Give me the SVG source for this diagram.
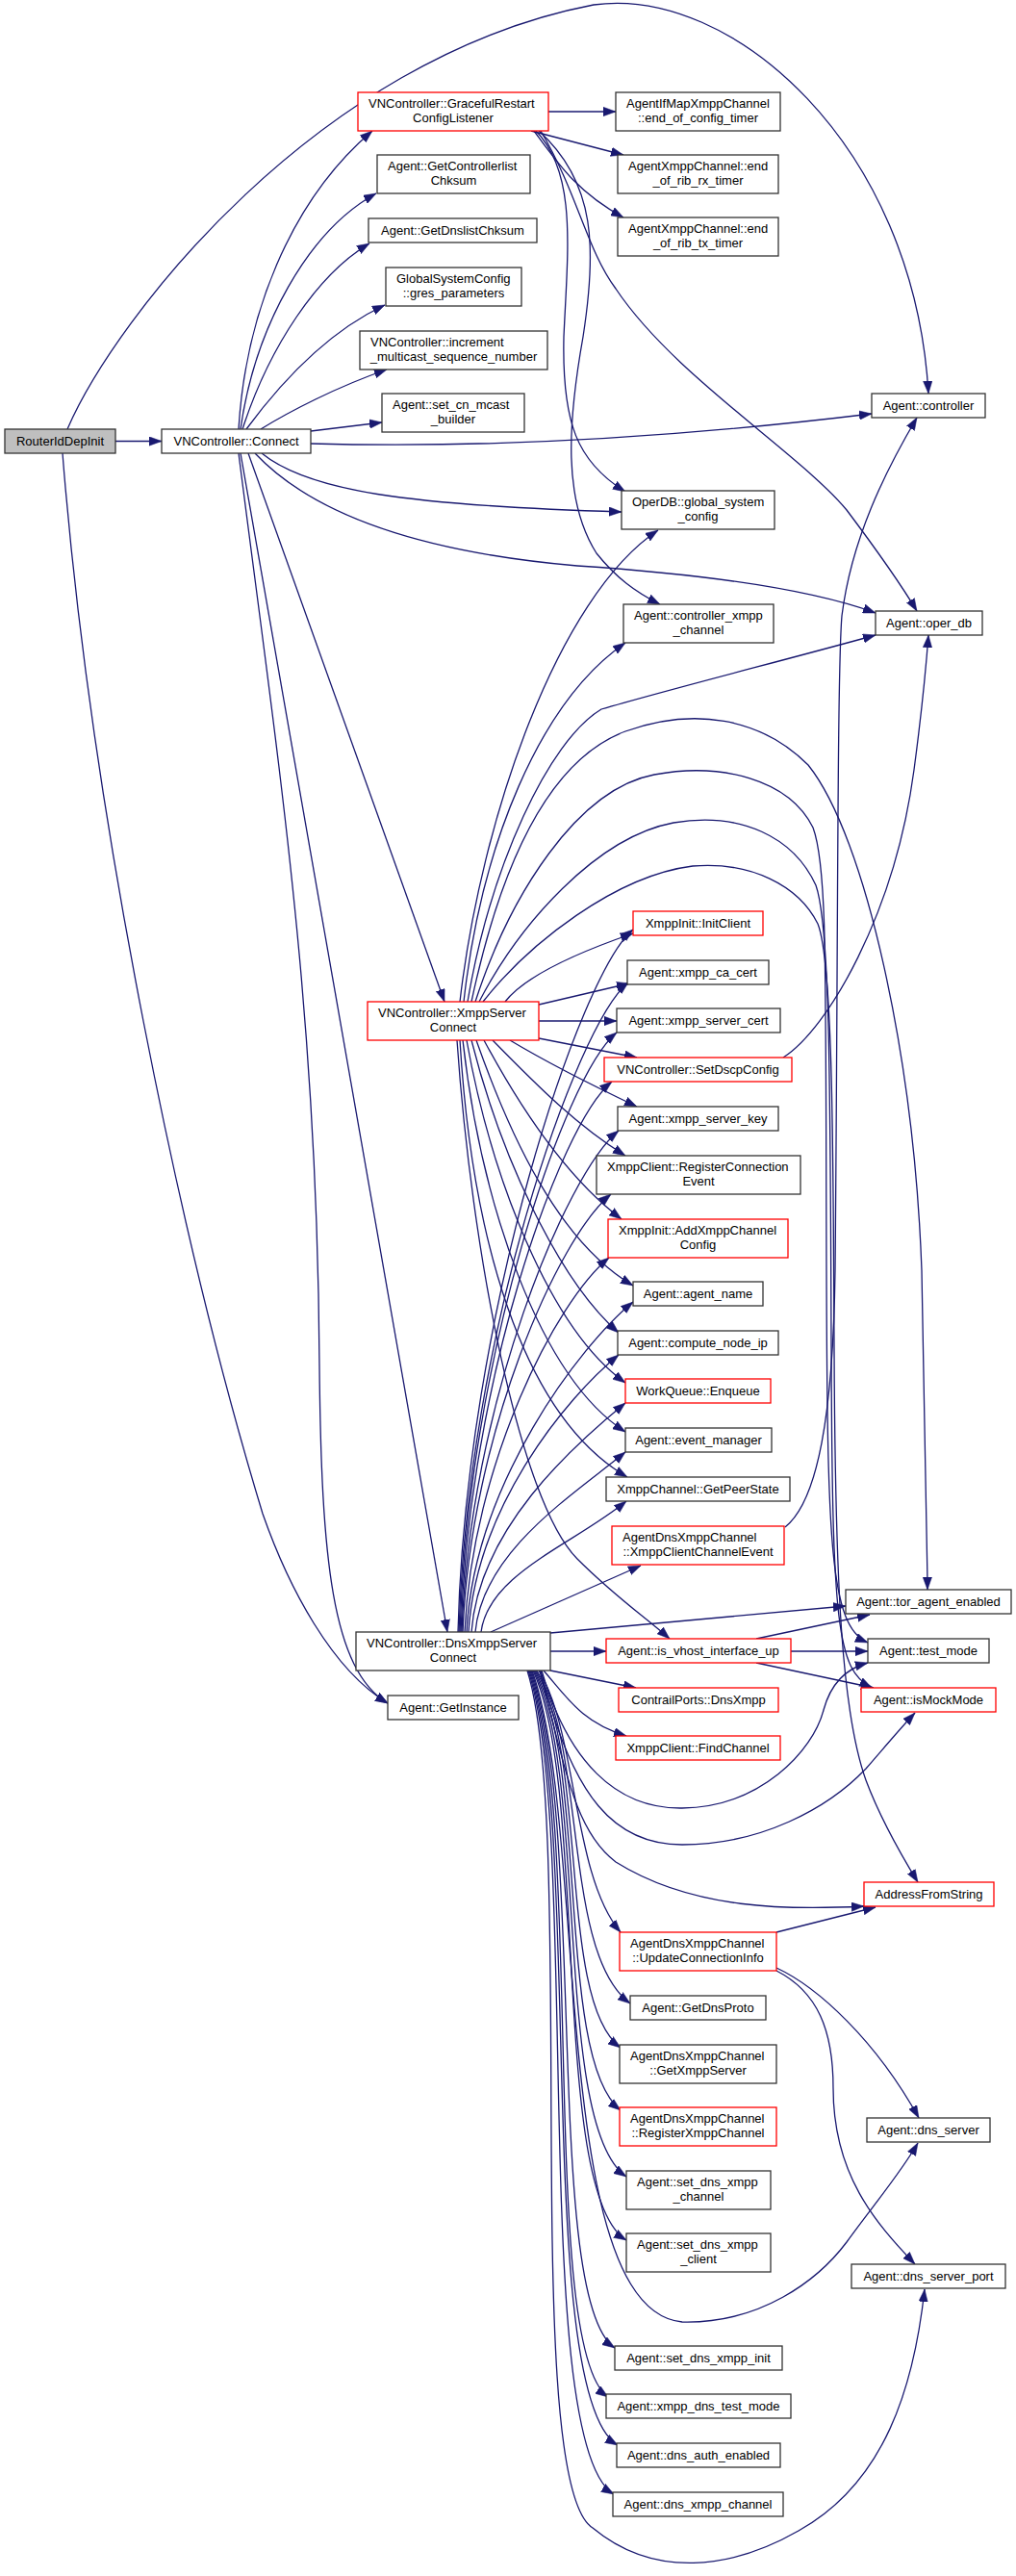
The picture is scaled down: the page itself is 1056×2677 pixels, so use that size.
<svg xmlns="http://www.w3.org/2000/svg" width="1056" height="2677" viewBox="0 0 1056 2677">
<defs>
<style>
.e{fill:none;stroke:#191970;stroke-width:1.3;marker-end:url(#ah)}
.b{fill:#fff;stroke:#333;stroke-width:1.3}
.r{fill:#fff;stroke:#f00;stroke-width:1.3}
.g{fill:#bfbfbf;stroke:#333;stroke-width:1.3}
text{font-family:"Liberation Sans",Arial,Helvetica,sans-serif;font-size:13px;fill:#000}
.m{text-anchor:middle}
</style>
<marker id="ah" viewBox="0 0 13 10" markerWidth="13" markerHeight="10" refX="13" refY="5" orient="auto" markerUnits="userSpaceOnUse"><path d="M0,0.3 L13,5 L0,9.7 z" fill="#191970" stroke="#191970" stroke-width="0.5"/></marker>
</defs>
<rect x="0" y="0" width="1056" height="2677" fill="#fff"/>
<g id="edges">
<path class="e" d="M120,458.5 L168,458.5"/>
<path class="e" d="M70,446 C120,330 330,60 617,5 C760,-15 950,150 965,409"/>
<path class="e" d="M65,471 C95,850 190,1300 273,1573 C300,1650 345,1735 403,1770"/>
<path class="e" d="M248,446 C255,330 300,210 387,136"/>
<path class="e" d="M250,446 C265,340 320,240 391,201"/>
<path class="e" d="M252,446 C280,360 330,285 384,253"/>
<path class="e" d="M256,446 C290,400 340,345 400,317"/>
<path class="e" d="M271,446 C300,428 350,402 402,384"/>
<path class="e" d="M323,448 L397,439"/>
<path class="e" d="M323,461 C500,466 700,455 906,430"/>
<path class="e" d="M272,471 C320,510 420,525 646,532"/>
<path class="e" d="M265,471 C330,540 450,575 600,588 C750,598 850,615 910,637"/>
<path class="e" d="M258,471 L462,1041"/>
<path class="e" d="M250,471 L465,1696"/>
<path class="e" d="M248,471 C290,800 330,1050 332,1420 C334,1620 345,1735 403,1770"/>
<path class="e" d="M570,116 L640,116"/>
<path class="e" d="M552,136 L648,161"/>
<path class="e" d="M555,136 C580,170 600,200 648,226"/>
<path class="e" d="M557,136 C600,180 590,260 586,350 C584,440 600,480 650,511"/>
<path class="e" d="M560,136 C620,190 620,260 606,350 C590,440 585,520 620,575 C640,600 660,615 686,628"/>
<path class="e" d="M562,136 C600,200 610,260 640,300 C700,390 830,470 880,530 C910,570 935,605 953,635"/>
<path class="e" d="M478,1041 C500,850 580,620 684,551"/>
<path class="e" d="M482,1041 C500,880 560,730 650,668"/>
<path class="e" d="M486,1041 C510,900 570,770 625,737 C700,715 820,685 910,660"/>
<path class="e" d="M490,1041 C520,900 570,790 650,760 C720,735 790,745 840,795 C900,870 950,1100 958,1320 C961,1450 963,1550 964,1652"/>
<path class="e" d="M494,1041 C530,930 600,820 680,805 C750,792 820,810 845,860 C860,900 858,1000 859,1320 C860,1600 862,1690 902,1707"/>
<path class="e" d="M498,1041 C540,960 620,870 700,855 C770,843 825,870 848,920 C862,960 863,1100 864,1400 C865,1690 870,1735 906,1754"/>
<path class="e" d="M502,1041 C550,980 640,910 720,900 C780,895 830,920 850,960 C866,1000 866,1200 867,1400 C868,1650 875,1780 900,1850 C915,1890 935,1925 954,1956"/>
<path class="e" d="M525,1041 C545,1015 600,990 658,970"/>
<path class="e" d="M560,1044 L654,1022"/>
<path class="e" d="M560,1061 L641,1061"/>
<path class="e" d="M560,1079 L662,1099"/>
<path class="e" d="M530,1081 C570,1105 620,1130 662,1150"/>
<path class="e" d="M512,1081 C560,1130 600,1170 650,1201"/>
<path class="e" d="M503,1081 C540,1150 590,1225 646,1267"/>
<path class="e" d="M495,1081 C530,1180 580,1290 658,1336"/>
<path class="e" d="M490,1081 C520,1200 580,1330 643,1385"/>
<path class="e" d="M485,1081 C510,1220 570,1380 650,1437"/>
<path class="e" d="M481,1081 C500,1250 560,1430 650,1488"/>
<path class="e" d="M478,1081 C490,1280 540,1470 652,1535"/>
<path class="e" d="M475,1081 C490,1300 540,1560 600,1620 C640,1660 670,1680 696,1703"/>
<path class="e" d="M476,1696 C484,1367 603,1011 658,966"/>
<path class="e" d="M477,1696 C485,1392 598,1066 653,1021"/>
<path class="e" d="M478,1696 C486,1416 586,1118 641,1073"/>
<path class="e" d="M479,1696 C487,1439 581,1169 636,1124"/>
<path class="e" d="M480,1696 C488,1462 588,1220 643,1175"/>
<path class="e" d="M481,1696 C489,1491 580,1286 635,1241"/>
<path class="e" d="M483,1696 C491,1521 578,1352 633,1307"/>
<path class="e" d="M485,1696 C493,1542 603,1398 658,1353"/>
<path class="e" d="M487,1696 C495,1566 588,1453 643,1408"/>
<path class="e" d="M490,1696 C498,1589 595,1503 650,1458"/>
<path class="e" d="M494,1696 C502,1612 595,1554 650,1509"/>
<path class="e" d="M500,1696 C508,1635 596,1605 651,1560"/>
<path class="e" d="M510,1696 L666,1627"/>
<path class="e" d="M572,1697 L879,1669"/>
<path class="e" d="M572,1716 L630,1716"/>
<path class="e" d="M572,1736 L661,1754"/>
<path class="e" d="M565,1736 C590,1765 605,1790 651,1804"/>
<path class="e" d="M563,1736 C590,1830 640,1880 709,1879 C790,1878 845,1820 856,1777 C862,1755 875,1735 902,1728"/>
<path class="e" d="M562,1736 C595,1870 640,1917 709,1917 C790,1917 860,1880 900,1838 C920,1815 935,1797 951,1780"/>
<path class="e" d="M561,1736 C590,1850 600,1905 640,1935 C720,1985 820,1985 898,1981"/>
<path class="e" d="M560,1736 C600,1800 595,1950 645,2008"/>
<path class="e" d="M558,1736 C610,1820 585,2030 655,2082"/>
<path class="e" d="M557,1736 C612,1830 580,2080 645,2128"/>
<path class="e" d="M556,1736 C612,1840 578,2140 645,2193"/>
<path class="e" d="M555,1736 C612,1850 575,2210 651,2262"/>
<path class="e" d="M554,1736 C612,1860 572,2280 651,2328"/>
<path class="e" d="M553,1736 C612,1900 570,2400 709,2413 C790,2415 850,2370 880,2330 C905,2295 935,2260 954,2227"/>
<path class="e" d="M552,1736 C610,1900 565,2390 639,2440"/>
<path class="e" d="M551,1736 C608,1900 560,2440 632,2491"/>
<path class="e" d="M550,1736 C606,1900 555,2490 642,2541"/>
<path class="e" d="M549,1736 C604,1900 550,2540 638,2592"/>
<path class="e" d="M548,1736 C600,1900 540,2580 616,2627 C680,2680 760,2670 830,2630 C920,2580 950,2480 961,2379"/>
<path class="e" d="M814,1099 C860,1070 930,950 950,800 C958,740 962,700 965,660"/>
<path class="e" d="M816,1587 C850,1560 866,1470 868,1320 C871,1000 870,700 875,640 C885,560 920,490 953,434"/>
<path class="e" d="M786,1703 L904,1678"/>
<path class="e" d="M822,1716 L902,1716"/>
<path class="e" d="M786,1728 L908,1754"/>
<path class="e" d="M807,2008 L910,1982"/>
<path class="e" d="M807,2045 C850,2065 910,2120 955,2201"/>
<path class="e" d="M807,2048 C850,2070 866,2110 866,2170 C866,2260 910,2310 951,2353"/>
</g>
<g id="n_RouterIdDepInit"><rect class="g" x="5" y="446" width="115" height="25"/><text class="m" x="62.5" y="463">RouterIdDepInit</text></g>
<g id="n_Connect"><rect class="b" x="168" y="446" width="155" height="25"/><text class="m" x="245.5" y="463">VNController::Connect</text></g>
<g id="n_Graceful"><rect class="r" x="372" y="96" width="198" height="40"/><text x="383" y="112">VNController::GracefulRestart</text><text class="m" x="471" y="127">ConfigListener</text></g>
<g id="n_GetControllerlistChksum"><rect class="b" x="392" y="161" width="159" height="40"/><text x="403" y="177">Agent::GetControllerlist</text><text class="m" x="471.5" y="192">Chksum</text></g>
<g id="n_GetDnslistChksum"><rect class="b" x="383" y="227" width="175" height="25"/><text class="m" x="470.5" y="244">Agent::GetDnslistChksum</text></g>
<g id="n_gres_parameters"><rect class="b" x="401" y="278" width="141" height="40"/><text x="412" y="294">GlobalSystemConfig</text><text class="m" x="471.5" y="309">::gres_parameters</text></g>
<g id="n_increment"><rect class="b" x="374" y="344" width="195" height="40"/><text x="385" y="360">VNController::increment</text><text class="m" x="471.5" y="375">_multicast_sequence_number</text></g>
<g id="n_set_cn_mcast_builder"><rect class="b" x="397" y="409" width="148" height="40"/><text x="408" y="425">Agent::set_cn_mcast</text><text class="m" x="471" y="440">_builder</text></g>
<g id="n_end_of_config_timer"><rect class="b" x="640" y="96" width="171" height="40"/><text x="651" y="112">AgentIfMapXmppChannel</text><text class="m" x="725.5" y="127">::end_of_config_timer</text></g>
<g id="n_end_of_rib_rx_timer"><rect class="b" x="642" y="161" width="167" height="40"/><text x="653" y="177">AgentXmppChannel::end</text><text class="m" x="725.5" y="192">_of_rib_rx_timer</text></g>
<g id="n_end_of_rib_tx_timer"><rect class="b" x="642" y="226" width="167" height="40"/><text x="653" y="242">AgentXmppChannel::end</text><text class="m" x="725.5" y="257">_of_rib_tx_timer</text></g>
<g id="n_controller"><rect class="b" x="906" y="409" width="118" height="25"/><text class="m" x="965" y="426">Agent::controller</text></g>
<g id="n_global_system_config"><rect class="b" x="646" y="510" width="159" height="40"/><text x="657" y="526">OperDB::global_system</text><text class="m" x="725.5" y="541">_config</text></g>
<g id="n_controller_xmpp_channel"><rect class="b" x="648" y="628" width="156" height="40"/><text x="659" y="644">Agent::controller_xmpp</text><text class="m" x="726" y="659">_channel</text></g>
<g id="n_oper_db"><rect class="b" x="910" y="635" width="111" height="25"/><text class="m" x="965.5" y="652">Agent::oper_db</text></g>
<g id="n_InitClient"><rect class="r" x="658" y="947" width="135" height="25"/><text class="m" x="725.5" y="964">XmppInit::InitClient</text></g>
<g id="n_xmpp_ca_cert"><rect class="b" x="652" y="998" width="147" height="25"/><text class="m" x="725.5" y="1015">Agent::xmpp_ca_cert</text></g>
<g id="n_xmpp_server_cert"><rect class="b" x="641" y="1048" width="170" height="25"/><text class="m" x="726" y="1065">Agent::xmpp_server_cert</text></g>
<g id="n_SetDscpConfig"><rect class="r" x="628" y="1099" width="195" height="25"/><text class="m" x="725.5" y="1116">VNController::SetDscpConfig</text></g>
<g id="n_xmpp_server_key"><rect class="b" x="642" y="1150" width="167" height="25"/><text class="m" x="725.5" y="1167">Agent::xmpp_server_key</text></g>
<g id="n_RegisterConnectionEvent"><rect class="b" x="620" y="1201" width="212" height="40"/><text x="631" y="1217">XmppClient::RegisterConnection</text><text class="m" x="726" y="1232">Event</text></g>
<g id="n_AddXmppChannelConfig"><rect class="r" x="632" y="1267" width="187" height="40"/><text x="643" y="1283">XmppInit::AddXmppChannel</text><text class="m" x="725.5" y="1298">Config</text></g>
<g id="n_agent_name"><rect class="b" x="658" y="1332" width="135" height="25"/><text class="m" x="725.5" y="1349">Agent::agent_name</text></g>
<g id="n_compute_node_ip"><rect class="b" x="642" y="1383" width="167" height="25"/><text class="m" x="725.5" y="1400">Agent::compute_node_ip</text></g>
<g id="n_Enqueue"><rect class="r" x="650" y="1433" width="151" height="25"/><text class="m" x="725.5" y="1450">WorkQueue::Enqueue</text></g>
<g id="n_event_manager"><rect class="b" x="650" y="1484" width="152" height="25"/><text class="m" x="726" y="1501">Agent::event_manager</text></g>
<g id="n_GetPeerState"><rect class="b" x="630" y="1535" width="191" height="25"/><text class="m" x="725.5" y="1552">XmppChannel::GetPeerState</text></g>
<g id="n_XmppClientChannelEvent"><rect class="r" x="636" y="1586" width="179" height="40"/><text x="647" y="1602">AgentDnsXmppChannel</text><text class="m" x="725.5" y="1617">::XmppClientChannelEvent</text></g>
<g id="n_tor_agent_enabled"><rect class="b" x="879" y="1652" width="172" height="25"/><text class="m" x="965" y="1669">Agent::tor_agent_enabled</text></g>
<g id="n_XmppServerConnect"><rect class="r" x="382" y="1041" width="178" height="40"/><text x="393" y="1057">VNController::XmppServer</text><text class="m" x="471" y="1072">Connect</text></g>
<g id="n_DnsXmppServerConnect"><rect class="b" x="370" y="1696" width="202" height="40"/><text x="381" y="1712">VNController::DnsXmppServer</text><text class="m" x="471" y="1727">Connect</text></g>
<g id="n_is_vhost_interface_up"><rect class="r" x="630" y="1703" width="192" height="25"/><text class="m" x="726" y="1720">Agent::is_vhost_interface_up</text></g>
<g id="n_test_mode"><rect class="b" x="902" y="1703" width="126" height="25"/><text class="m" x="965" y="1720">Agent::test_mode</text></g>
<g id="n_DnsXmpp"><rect class="r" x="643" y="1754" width="166" height="25"/><text class="m" x="726" y="1771">ContrailPorts::DnsXmpp</text></g>
<g id="n_isMockMode"><rect class="r" x="895" y="1754" width="140" height="25"/><text class="m" x="965" y="1771">Agent::isMockMode</text></g>
<g id="n_GetInstance"><rect class="b" x="403" y="1762" width="136" height="25"/><text class="m" x="471" y="1779">Agent::GetInstance</text></g>
<g id="n_FindChannel"><rect class="r" x="640" y="1804" width="171" height="25"/><text class="m" x="725.5" y="1821">XmppClient::FindChannel</text></g>
<g id="n_AddressFromString"><rect class="r" x="898" y="1956" width="135" height="25"/><text class="m" x="965.5" y="1973">AddressFromString</text></g>
<g id="n_UpdateConnectionInfo"><rect class="r" x="644" y="2008" width="163" height="40"/><text x="655" y="2024">AgentDnsXmppChannel</text><text class="m" x="725.5" y="2039">::UpdateConnectionInfo</text></g>
<g id="n_GetDnsProto"><rect class="b" x="655" y="2074" width="141" height="25"/><text class="m" x="725.5" y="2091">Agent::GetDnsProto</text></g>
<g id="n_GetXmppServer"><rect class="b" x="644" y="2125" width="163" height="40"/><text x="655" y="2141">AgentDnsXmppChannel</text><text class="m" x="725.5" y="2156">::GetXmppServer</text></g>
<g id="n_RegisterXmppChannel"><rect class="r" x="644" y="2190" width="163" height="40"/><text x="655" y="2206">AgentDnsXmppChannel</text><text class="m" x="725.5" y="2221">::RegisterXmppChannel</text></g>
<g id="n_dns_server"><rect class="b" x="901" y="2201" width="128" height="25"/><text class="m" x="965" y="2218">Agent::dns_server</text></g>
<g id="n_set_dns_xmpp_channel"><rect class="b" x="651" y="2256" width="150" height="40"/><text x="662" y="2272">Agent::set_dns_xmpp</text><text class="m" x="726" y="2287">_channel</text></g>
<g id="n_set_dns_xmpp_client"><rect class="b" x="651" y="2321" width="150" height="40"/><text x="662" y="2337">Agent::set_dns_xmpp</text><text class="m" x="726" y="2352">_client</text></g>
<g id="n_dns_server_port"><rect class="b" x="885" y="2353" width="160" height="25"/><text class="m" x="965" y="2370">Agent::dns_server_port</text></g>
<g id="n_set_dns_xmpp_init"><rect class="b" x="639" y="2438" width="174" height="25"/><text class="m" x="726" y="2455">Agent::set_dns_xmpp_init</text></g>
<g id="n_xmpp_dns_test_mode"><rect class="b" x="630" y="2488" width="192" height="25"/><text class="m" x="726" y="2505">Agent::xmpp_dns_test_mode</text></g>
<g id="n_dns_auth_enabled"><rect class="b" x="641" y="2539" width="170" height="25"/><text class="m" x="726" y="2556">Agent::dns_auth_enabled</text></g>
<g id="n_dns_xmpp_channel"><rect class="b" x="637" y="2590" width="177" height="25"/><text class="m" x="725.5" y="2607">Agent::dns_xmpp_channel</text></g>
</svg>
